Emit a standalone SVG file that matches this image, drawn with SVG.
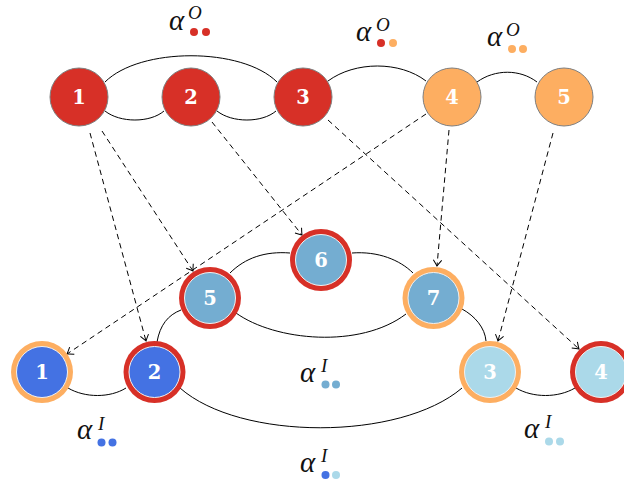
<svg xmlns="http://www.w3.org/2000/svg" width="624" height="485" viewBox="0 0 624 485">
<defs>
<style>
.top{stroke:#7f7f7f;stroke-width:1}
.num{font-family:"DejaVu Serif","Liberation Serif",serif;font-weight:bold;font-size:19.5px;fill:#fff;text-anchor:middle}
.edge{fill:none;stroke:#000;stroke-width:1}
.dash{fill:none;stroke:#000;stroke-width:1;stroke-dasharray:5.5 4;marker-end:url(#arr)}
.alpha{font-family:"Liberation Serif","DejaVu Serif",serif;font-style:italic;font-size:29px;fill:#111}
.sup{font-family:"Liberation Serif","DejaVu Serif",serif;font-style:italic;font-size:19px;fill:#111}
.inner{stroke:#f0f0f0;stroke-width:1}
</style>
<marker id="arr" viewBox="-7 -5 8 10" markerWidth="8" markerHeight="10" refX="0" refY="0" orient="auto" markerUnits="userSpaceOnUse">
<path d="M-6,-4.2 Q-2,-1.2 0,0 Q-2,1.2 -6,4.2" fill="none" stroke="#000" stroke-width="1"/>
</marker>
</defs>
<rect width="624" height="485" fill="#fff"/>
<g id="connectors">
<path class="edge" d="M105,82 C140,47 242,47 277,82"/>
<path class="edge" d="M105,111 C120,123 150,123 164,111"/>
<path class="edge" d="M217,111 C232,123 262,123 276,111"/>
<path class="edge" d="M328,81 C355,61 400,61 426,81"/>
<path class="edge" d="M477,82 C495,69 520,69 537,82"/>
<path class="edge" d="M68,388 C85,398 110,398 126,388"/>
<path class="edge" d="M516,388 C533,398 558,398 575,388"/>
<path class="edge" d="M180,388 C240,441 400,441 462,388"/>
<path class="edge" d="M230,273 C245,258 265,251 290,253"/>
<path class="edge" d="M352,253 C378,251 400,260 413,273"/>
<path class="edge" d="M236,313 C275,341 360,349 406,314"/>
<path class="edge" d="M157,342 C160,325 168,315 181,310"/>
<path class="edge" d="M462,309 C475,316 485,328 486,341"/>
<line class="dash" x1="90" y1="133" x2="146" y2="341"/>
<line class="dash" x1="102" y1="131" x2="193" y2="271"/>
<line class="dash" x1="212" y1="122" x2="302" y2="235"/>
<line class="dash" x1="328" y1="120" x2="579" y2="349"/>
<line class="dash" x1="426" y1="114" x2="67" y2="354"/>
<line class="dash" x1="449" y1="130" x2="437" y2="266"/>
<line class="dash" x1="553" y1="133" x2="498" y2="341"/>
</g>
<g id="o1"><circle class="top" cx="79" cy="97" r="29" fill="#d73027"/><text class="num" x="79" y="104">1</text></g>
<g id="o2"><circle class="top" cx="191" cy="97" r="29" fill="#d73027"/><text class="num" x="191" y="104">2</text></g>
<g id="o3"><circle class="top" cx="303" cy="97" r="29" fill="#d73027"/><text class="num" x="303" y="104">3</text></g>
<g id="o4"><circle class="top" cx="452" cy="97" r="29" fill="#fdae61"/><text class="num" x="452" y="104">4</text></g>
<g id="o5"><circle class="top" cx="564" cy="97" r="29" fill="#fdae61"/><text class="num" x="564" y="104">5</text></g>
<g id="i1"><circle cx="42" cy="372" r="31" fill="#fdae61"/><circle class="inner" cx="42" cy="372" r="25.5" fill="#4472e3"/><text class="num" x="42" y="379">1</text></g>
<g id="i2"><circle cx="154.5" cy="372" r="31" fill="#d73027"/><circle class="inner" cx="154.5" cy="372" r="25.5" fill="#4472e3"/><text class="num" x="154.5" y="379">2</text></g>
<g id="i5"><circle cx="210" cy="298" r="31" fill="#d73027"/><circle class="inner" cx="210" cy="298" r="25.5" fill="#74add1"/><text class="num" x="210" y="305">5</text></g>
<g id="i6"><circle cx="321" cy="260" r="31" fill="#d73027"/><circle class="inner" cx="321" cy="260" r="25.5" fill="#74add1"/><text class="num" x="321" y="267">6</text></g>
<g id="i7"><circle cx="433.5" cy="298" r="31" fill="#fdae61"/><circle class="inner" cx="433.5" cy="298" r="25.5" fill="#74add1"/><text class="num" x="433.5" y="305">7</text></g>
<g id="i3"><circle cx="490" cy="372" r="31" fill="#fdae61"/><circle class="inner" cx="490" cy="372" r="25.5" fill="#abd9e9"/><text class="num" x="490" y="379">3</text></g>
<g id="i4"><circle cx="601" cy="372" r="31" fill="#d73027"/><circle class="inner" cx="601" cy="372" r="25.5" fill="#abd9e9"/><text class="num" x="601" y="379">4</text></g>
<g id="labels">
<text class="alpha" x="169" y="30">α</text><text class="sup" x="188" y="19">O</text><circle cx="194" cy="32" r="4" fill="#d73027"/><circle cx="206" cy="32" r="4" fill="#d73027"/>
<text class="alpha" x="356" y="41">α</text><text class="sup" x="376" y="31">O</text><circle cx="381" cy="43" r="4" fill="#d73027"/><circle cx="393" cy="43" r="4" fill="#fdae61"/>
<text class="alpha" x="487" y="46">α</text><text class="sup" x="506" y="36">O</text><circle cx="512" cy="49" r="4" fill="#fdae61"/><circle cx="523" cy="49" r="4" fill="#fdae61"/>
<text class="alpha" x="77" y="439">α</text><text class="sup" x="98" y="430">I</text><circle cx="101.5" cy="442.5" r="4" fill="#4472e3"/><circle cx="112.5" cy="442.5" r="4" fill="#4472e3"/>
<text class="alpha" x="300" y="472">α</text><text class="sup" x="321" y="462">I</text><circle cx="325.5" cy="475" r="4" fill="#4472e3"/><circle cx="336" cy="475" r="4" fill="#abd9e9"/>
<text class="alpha" x="300" y="382">α</text><text class="sup" x="321" y="372">I</text><circle cx="325.5" cy="384.5" r="4" fill="#74add1"/><circle cx="336" cy="384.5" r="4" fill="#74add1"/>
<text class="alpha" x="524" y="438">α</text><text class="sup" x="545" y="428">I</text><circle cx="549" cy="441.5" r="4" fill="#abd9e9"/><circle cx="560" cy="441.5" r="4" fill="#abd9e9"/>
</g>
</svg>
